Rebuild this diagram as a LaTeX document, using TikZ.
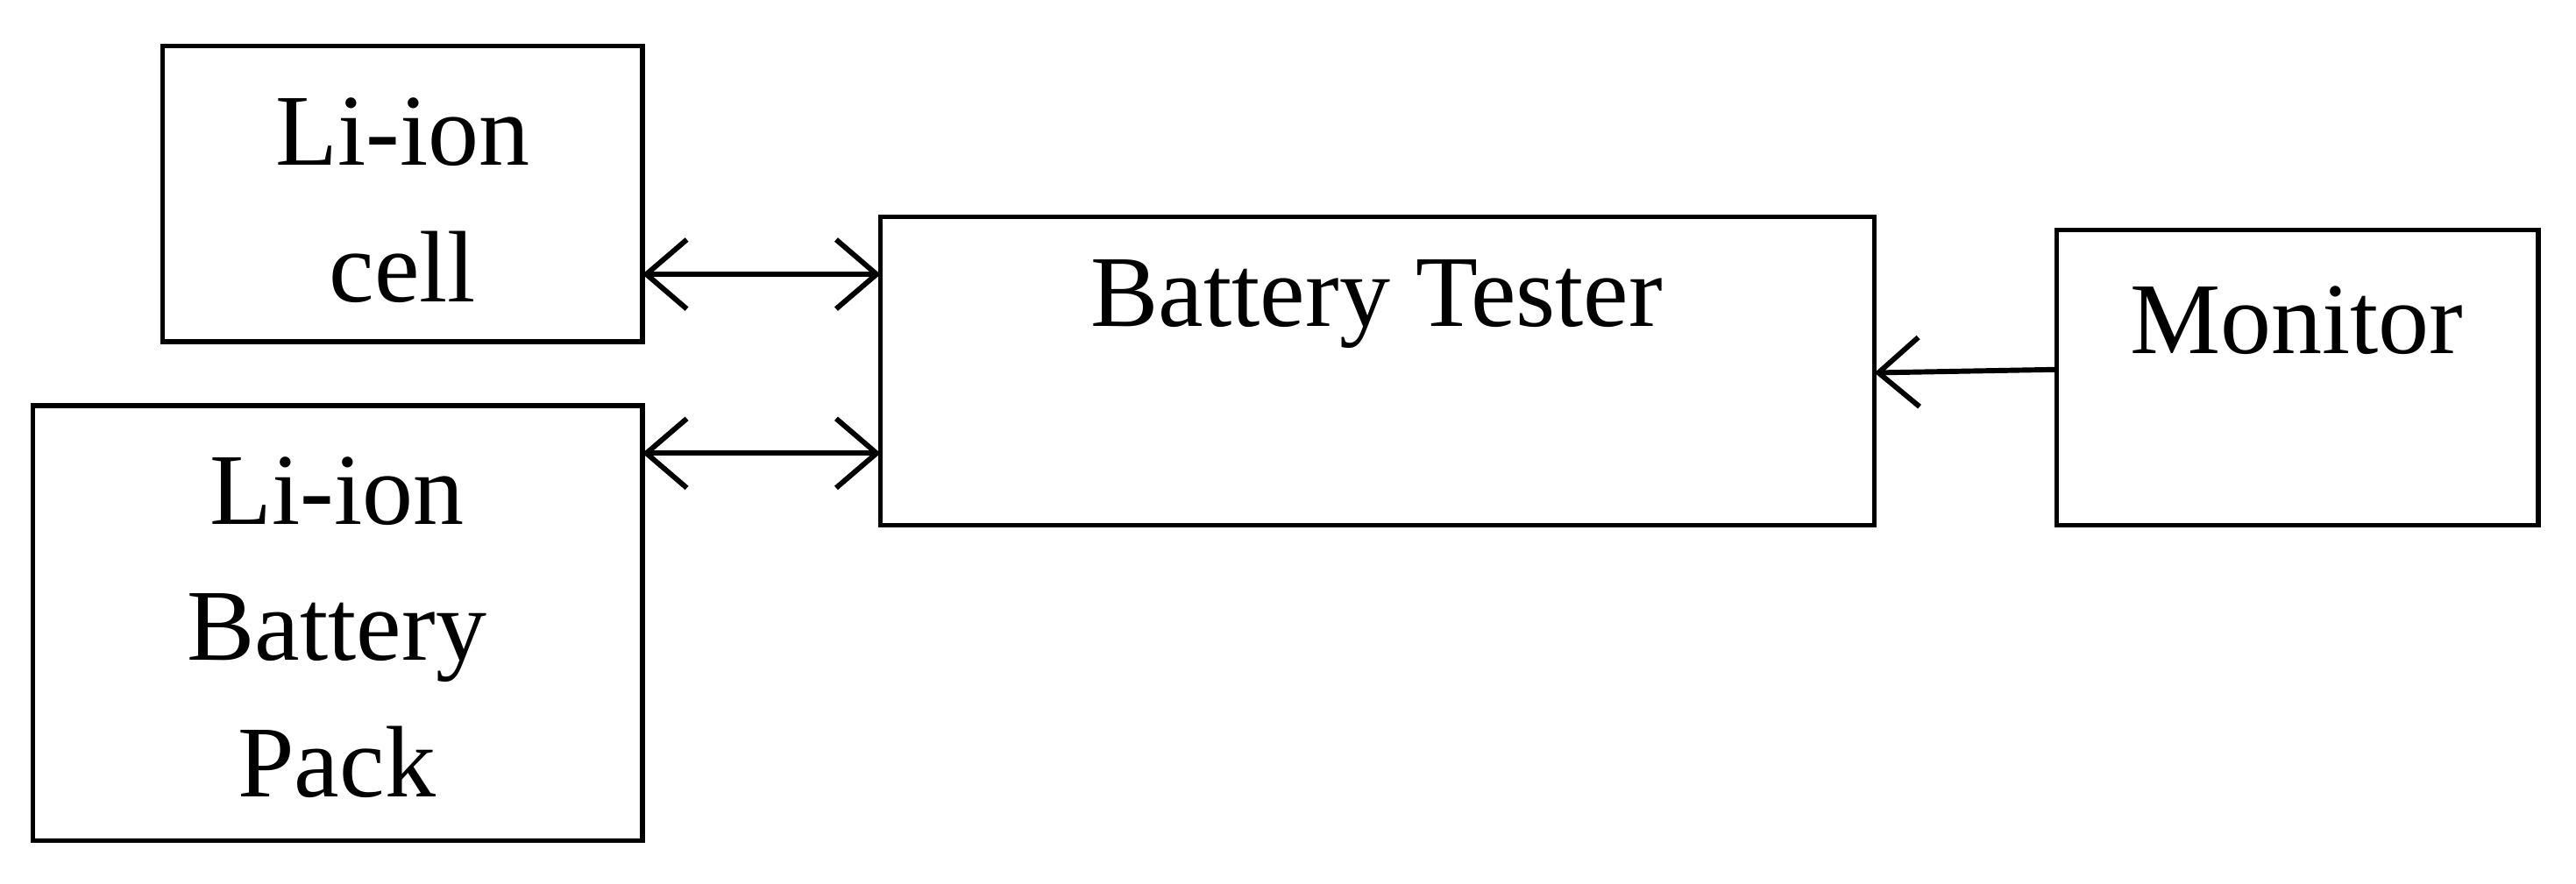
\documentclass[tikz,border=0pt]{standalone}
\usepackage{fontspec}
\setmainfont{Liberation Serif}
\usetikzlibrary{arrows.meta}
\begin{document}
\begin{tikzpicture}[x=0.01cm,y=-0.01cm,
  box/.style={draw,line width=0.8pt,inner sep=0pt},
  lbl/.style={font=\fontsize{17.6}{23.6}\selectfont,align=center},
  arr/.style={line width=0.9pt,{Straight Barb[length=7pt,width=12pt]}-{Straight Barb[length=7pt,width=12pt]}},
  arr1/.style={line width=0.9pt,-{Straight Barb[length=7pt,width=12pt]}}]
\useasboundingbox (0,0) rectangle (1568,538);
\draw[box] (99,28) rectangle (391,208);
\draw[box] (20,247) rectangle (391,512);
\draw[box] (536,132) rectangle (1141,320);
\draw[box] (1252,140) rectangle (1545,320);
\node[lbl] (cell) at (245,122) {Li-ion\\ cell};
\node[lbl] (pack) at (205,382) {Li-ion\\ Battery\\ Pack};
\node[lbl] (tester) at (838,185) {Battery Tester};
\node[lbl] (mon) at (1398,195) {Monitor};
\coordinate (a1) at (391,167); \coordinate (b1) at (536,167);
\coordinate (a2) at (391,276); \coordinate (b2) at (536,276);
\coordinate (m1) at (1252,225); \coordinate (t1) at (1141,227);
\draw[arr] (a1) -- (b1);
\draw[arr] (a2) -- (b2);
\draw[arr1] (m1) -- (t1);
\end{tikzpicture}
\end{document}
